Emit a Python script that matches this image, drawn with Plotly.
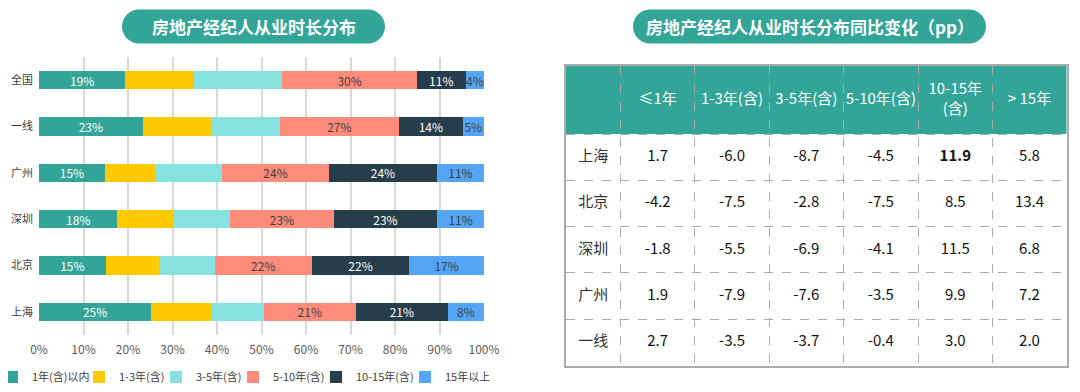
import plotly.graph_objects as go

# ---------------- data ----------------
cities = ['全国', '一线', '广州', '深圳', '北京', '上海']
series_names = ['1年(含)以内', '1-3年(含)', '3-5年(含)', '5-10年(含)', '10-15年(含)', '15年以上']
s_le1 = [19.4, 23.3, 14.8, 17.6, 15.0, 25.2]
s_1_3 = [15.4, 15.4, 11.3, 12.5, 11.9, 13.7]
s_3_5 = [19.9, 15.4, 15.0, 12.9, 12.6, 11.6]
s_5_10 = [30.2, 26.8, 24.1, 23.2, 21.8, 20.7]
s_10_15 = [11.0, 14.3, 24.2, 23.3, 21.9, 20.7]
s_gt15 = [4.1, 4.8, 10.6, 10.5, 16.8, 8.1]
series_values = [s_le1, s_1_3, s_3_5, s_5_10, s_10_15, s_gt15]
x_tick_vals = [0, 10, 20, 30, 40, 50, 60, 70, 80, 90, 100]
x_tick_text = ['0%', '10%', '20%', '30%', '40%', '50%', '60%', '70%', '80%', '90%', '100%']

table_header = ['', '≤1年', '1-3年(含)', '3-5年(含)', '5-10年(含)', '10-15年<br>(含)', '> 15年']
table_rows = ['上海', '北京', '深圳', '广州', '一线']
t_le1 = ['1.7', '-4.2', '-1.8', '1.9', '2.7']
t_1_3 = ['-6.0', '-7.5', '-5.5', '-7.9', '-3.5']
t_3_5 = ['-8.7', '-2.8', '-6.9', '-7.6', '-3.7']
t_5_10 = ['-4.5', '-7.5', '-4.1', '-3.5', '-0.4']
t_10_15 = ['<b>11.9</b>', '8.5', '11.5', '9.9', '3.0']
t_gt15 = ['5.8', '13.4', '6.8', '7.2', '2.0']
table_columns = [table_rows, t_le1, t_1_3, t_3_5, t_5_10, t_10_15, t_gt15]

title_left = '房地产经纪人从业时长分布'
title_right = '房地产经纪人从业时长分布同比变化（pp）'

# ---------------- layout / styles ----------------
PAGE_W, PAGE_H = 1080, 392
OFF = 8                      # default page body margin
W, H = PAGE_W - OFF * 2, PAGE_H - OFF * 2


def fx(x):                   # page pixel -> paper x
    return (x - OFF) / W


def fy(y):                   # page pixel -> paper y
    return 1 - (y - OFF) / H


TEAL = '#33A598'
colors = ['#33A598', '#FFC900', '#86E2DF', '#FF8B7A', '#263D4B', '#55A5F5']
text_colors = ['white', 'white', 'white', '#404040', 'white', '#404040']
show_text = [True, False, False, True, True, True]
legend_widths = [42, 32, 32, 38, 44, 50]
FONT = 'Noto Sans CJK SC, Noto Sans, sans-serif'

# table geometry (pixel-like units on the table axes)
col_widths = [54.7, 74, 74.6, 74, 75, 74, 74.4]
row_heights = [68, 46.3, 46.3, 46.3, 46.3, 46.3]
col_bounds = [0]
for w in col_widths:
    col_bounds.append(col_bounds[-1] + w)
row_bounds = [0]
for h in row_heights:
    row_bounds.append(row_bounds[-1] + h)
col_centers = [(col_bounds[i] + col_bounds[i + 1]) / 2 for i in range(len(col_widths))]
row_centers = [(row_bounds[i] + row_bounds[i + 1]) / 2 for i in range(len(row_heights))]
TBL_X0, TBL_Y0 = 566, 66

fig = go.Figure()

for name, vals, col, tcol, st, lw in zip(series_names, series_values, colors, text_colors,
                                         show_text, legend_widths):
    fig.add_trace(go.Bar(
        name=name, y=cities, x=vals, orientation='h',
        marker=dict(color=col, line=dict(width=0)),
        texttemplate='%{x:.0f}%' if st else None,
        textposition='inside' if st else 'none',
        insidetextanchor='middle',
        textangle=0,
        textfont=dict(size=12, color=tcol, family=FONT),
        legendwidth=lw,
        xaxis='x', yaxis='y',
    ))

# table header text
fig.add_trace(go.Scatter(
    x=col_centers, y=[row_centers[0]] * len(col_centers),
    text=table_header, mode='text',
    textfont=dict(color='white', size=15, family=FONT),
    xaxis='x2', yaxis='y2', showlegend=False, hoverinfo='skip',
))
# table body text
for ci, colvals in enumerate(table_columns):
    fig.add_trace(go.Scatter(
        x=[col_centers[ci]] * len(colvals), y=row_centers[1:],
        text=colvals, mode='text',
        textfont=dict(color='#333333' if ci == 0 else '#111111', size=15, family=FONT),
        xaxis='x2', yaxis='y2', showlegend=False, hoverinfo='skip',
    ))


def pill(x0, x1, y0, y1):
    r = (y1 - y0) / 2
    k = 0.5523 * r

    def p(x, y):
        return f'{fx(x):.5f},{fy(y):.5f}'
    path = (f'M{p(x0 + r, y0)} L{p(x1 - r, y0)} '
            f'C{p(x1 - r + k, y0)} {p(x1, y0 + r - k)} {p(x1, y0 + r)} '
            f'C{p(x1, y0 + r + k)} {p(x1 - r + k, y1)} {p(x1 - r, y1)} '
            f'L{p(x0 + r, y1)} '
            f'C{p(x0 + r - k, y1)} {p(x0, y0 + r + k)} {p(x0, y0 + r)} '
            f'C{p(x0, y0 + r - k)} {p(x0 + r - k, y0)} {p(x0 + r, y0)} Z')
    return dict(type='path', path=path, xref='paper', yref='paper',
                fillcolor=TEAL, line=dict(width=0), layer='above')


header_fill = dict(type='rect', xref='x2', yref='y2', x0=0, x1=col_bounds[-1],
                   y0=0, y1=row_bounds[1], fillcolor=TEAL, line=dict(width=0), layer='below')

grid_color = '#ABABAB'
fig.update_layout(
    width=W, height=H,
    margin=dict(l=0, r=0, t=0, b=0, autoexpand=False),
    paper_bgcolor='white', plot_bgcolor='white',
    barmode='stack', bargap=0.61,
    font=dict(family=FONT, color='#404040'),
    uniformtext=dict(minsize=12, mode='show'),
    showlegend=True,
    xaxis=dict(domain=[fx(39), fx(484)], range=[0, 100], tickmode='array',
               tickvals=x_tick_vals, ticktext=x_tick_text, automargin=False,
               showgrid=True, gridcolor='#D9D9D9', gridwidth=1.5,
               zeroline=False, showline=False, ticks='', ticklabelstandoff=6,
               tickfont=dict(size=12, color='#595959'), fixedrange=True),
    yaxis=dict(domain=[fy(335), fy(57)], type='category', autorange='reversed',
               automargin=False, showgrid=False, zeroline=False, showline=False, ticks='',
               ticklabelstandoff=5,
               tickfont=dict(size=11, color='#404040'), fixedrange=True),
    xaxis2=dict(domain=[fx(TBL_X0), fx(TBL_X0 + col_bounds[-1])], anchor='y2',
                range=[0, col_bounds[-1]], tickmode='array', tickvals=col_bounds[1:-1],
                showticklabels=False, ticks='', automargin=False,
                showgrid=True, griddash='dash', gridcolor=grid_color, gridwidth=1,
                zeroline=False, showline=True, mirror=True, linecolor=grid_color,
                linewidth=1.5, fixedrange=True),
    yaxis2=dict(domain=[fy(TBL_Y0 + row_bounds[-1]), fy(TBL_Y0)], anchor='x2',
                range=[row_bounds[-1], 0], tickmode='array', tickvals=row_bounds[1:-1],
                showticklabels=False, ticks='', automargin=False,
                showgrid=True, griddash='dash', gridcolor=grid_color, gridwidth=1,
                zeroline=False, showline=True, mirror=True, linecolor=grid_color,
                linewidth=1.5, fixedrange=True),
    legend=dict(orientation='h', x=fx(246), xanchor='center', y=fy(377), yanchor='middle',
                font=dict(size=11, color='#404040'), traceorder='normal',
                itemwidth=30, bgcolor='rgba(0,0,0,0)'),
    shapes=[header_fill, pill(122, 385, 9.5, 43.5), pill(633, 986, 9.5, 43.5)],
    annotations=[
        dict(text=f'<b>{title_left}</b>', x=fx((122 + 385) / 2), y=fy(26.5),
             xref='paper', yref='paper', showarrow=False, xanchor='center', yanchor='middle',
             font=dict(size=17, color='white', family=FONT)),
        dict(text=f'<b>{title_right}</b>', x=fx((633 + 986) / 2), y=fy(26.5),
             xref='paper', yref='paper', showarrow=False, xanchor='center', yanchor='middle',
             font=dict(size=17, color='white', family=FONT)),
    ],
)

fig.write_html('out.html')
